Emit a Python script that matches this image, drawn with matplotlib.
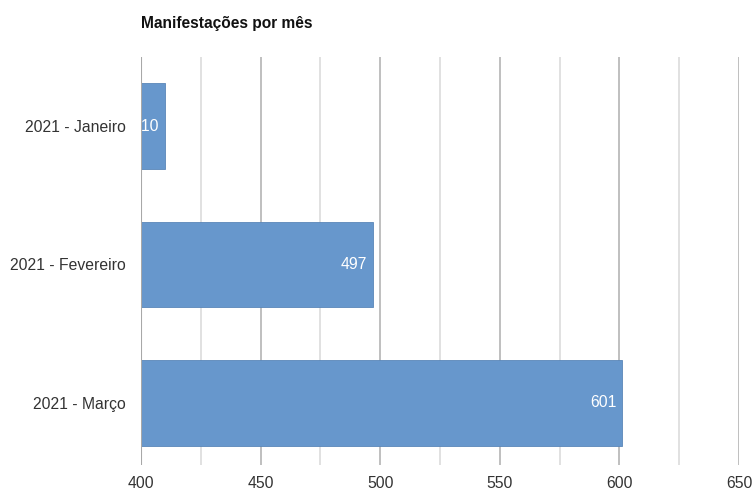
import matplotlib as mpl
import matplotlib.pyplot as plt
import matplotlib.ticker as ticker

mpl.rcParams['font.family'] = ['Liberation Sans', 'DejaVu Sans']

# Data
months = ['2021 - Janeiro', '2021 - Fevereiro', '2021 - Março']
counts = [410, 497, 601]
x_ticks = [400, 450, 500, 550, 600, 650]

bar_color = '#6797cc'

fig = plt.figure(figsize=(7.52, 4.96), dpi=100)
ax = fig.add_axes([0.1875, 0.0625, 0.7953, 0.8226])

pos = list(range(len(months)))
bars = ax.barh(pos, [c - 400 for c in counts], left=400, height=0.62,
               color=bar_color, edgecolor='#5a86b8', linewidth=0.6, zorder=3)

for p, c in zip(pos, counts):
    ax.annotate(str(c), xy=(c, p), xytext=(-4, 0), textcoords='offset points',
                ha='right', va='center', color='white', fontsize=11.3, zorder=4)

ax.set_xlim(400, 650)
ax.set_ylim(len(months) - 0.55, -0.5)
ax.set_yticks(pos)
ax.set_yticklabels(months)
ax.xaxis.set_major_locator(ticker.FixedLocator(x_ticks))
ax.xaxis.set_minor_locator(ticker.MultipleLocator(25))

ax.grid(axis='x', which='major', color='#b4b4b4', linewidth=1.2, zorder=0)
ax.grid(axis='x', which='minor', color='#dcdcdc', linewidth=1.2, zorder=0)
ax.axvline(400, color='#a8a8a8', linewidth=1.5, zorder=5)

for s in ax.spines.values():
    s.set_visible(False)
ax.tick_params(axis='both', which='both', length=0, labelsize=11.3, labelcolor='#333333')
ax.tick_params(axis='y', pad=11)
ax.tick_params(axis='x', pad=8)

fig.text(0.1875, 0.953, 'Manifestações por mês', fontsize=11.2, fontweight='bold',
         color='#111111', ha='left', va='center')

plt.savefig('out.png', dpi=100)
